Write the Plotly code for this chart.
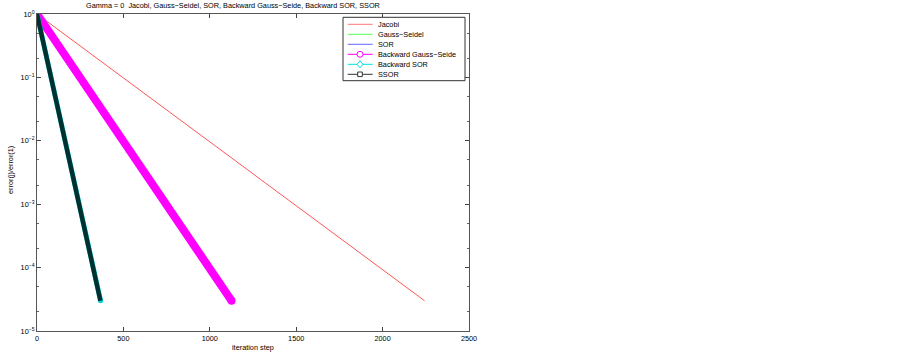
import plotly.graph_objects as go

# ---- data ----
names = ["Jacobi", "Gauss\u2212Seidel", "SOR", "Backward Gauss\u2212Seide", "Backward SOR", "SSOR"]
iter_jacobi = [0, 2243]
err_jacobi = [1.0, 3.0e-5]
iter_gs = [0, 1126]
err_gs = [1.0, 3.0e-5]
iter_sor = [0, 368]
err_sor = [1.0, 3.0e-5]
iter_bgs = [0, 1126]
err_bgs = [1.0, 3.0e-5]
iter_bsor = [0, 368]
err_bsor = [1.0, 3.0e-5]
iter_ssor = [0, 367]
err_ssor = [1.0, 3.0e-5]
x_ticks = [0, 500, 1000, 1500, 2000, 2500]
y_ticks = [1e-5, 1e-4, 1e-3, 1e-2, 1e-1, 1e0]
y_ticklabels = ["10<sup>\u22125</sup>", "10<sup>\u22124</sup>", "10<sup>\u22123</sup>",
                "10<sup>\u22122</sup>", "10<sup>\u22121</sup>", "10<sup>0</sup>"]

FONT = "Arial"
FS = 7.3
W, H = 902, 354
L, R, T, B = 37, 433, 14, 23

fig = go.Figure()
fig.add_trace(go.Scatter(x=iter_jacobi, y=err_jacobi, mode="lines",
                         line=dict(color="#ff5555", width=1), showlegend=False))
fig.add_trace(go.Scatter(x=iter_gs, y=err_gs, mode="lines",
                         line=dict(color="#33ff33", width=1), showlegend=False))
fig.add_trace(go.Scatter(x=iter_sor, y=err_sor, mode="lines",
                         line=dict(color="#3333ff", width=1), showlegend=False))
fig.add_trace(go.Scatter(x=iter_bgs, y=err_bgs, mode="lines+markers",
                         line=dict(color="#ff00ff", width=8),
                         marker=dict(symbol="circle", size=8, color="#ff00ff"),
                         showlegend=False))
fig.add_trace(go.Scatter(x=iter_bsor, y=err_bsor, mode="lines+markers",
                         line=dict(color="#00d8d8", width=5),
                         marker=dict(symbol="circle", size=5, color="#00d8d8"),
                         showlegend=False))
fig.add_trace(go.Scatter(x=iter_ssor, y=err_ssor, mode="lines",
                         line=dict(color="rgba(0,0,0,0.78)", width=4.5),
                         showlegend=False))

# ---- manual MATLAB-style legend ----
def px(x):
    return (x - L) / (W - L - R)

def py(y):
    return 1 - (y - T) / (H - T - B)

shapes = [dict(type="rect", xref="paper", yref="paper",
               x0=px(343), x1=px(465), y0=py(17.3), y1=py(80.7),
               line=dict(color="#333", width=1), fillcolor="white", layer="above")]
annotations = []
colors = ["#ff7777", "#55ff55", "#6666ff", "#ff00ff", "#00e0e0", "#333333"]
rows = [24.3, 34.3, 44.3, 54.3, 64.3, 74.3]
for i, (nm, c, yy) in enumerate(zip(names, colors, rows)):
    shapes.append(dict(type="line", xref="paper", yref="paper",
                       x0=px(347.7), x1=px(372.7), y0=py(yy), y1=py(yy),
                       line=dict(color=c, width=1), layer="above"))
    if i == 3:
        shapes.append(dict(type="circle", xref="paper", yref="paper",
                           x0=px(357), x1=px(363), y0=py(yy + 3), y1=py(yy - 3),
                           line=dict(color=c, width=1), fillcolor="white", layer="above"))
    elif i == 4:
        path = "M {a},{b} L {c},{d} L {a},{e} L {f},{d} Z".format(
            a=px(360), b=py(yy - 3.5), c=px(363), d=py(yy), e=py(yy + 3.5), f=px(357))
        shapes.append(dict(type="path", xref="paper", yref="paper", path=path,
                           line=dict(color=c, width=1), fillcolor="white", layer="above"))
    elif i == 5:
        shapes.append(dict(type="rect", xref="paper", yref="paper",
                           x0=px(357.7), x1=px(362.3), y0=py(yy + 2.3), y1=py(yy - 2.3),
                           line=dict(color=c, width=1), fillcolor="white", layer="above"))
    annotations.append(dict(xref="paper", yref="paper", x=px(375.7), y=py(yy),
                            text=nm, showarrow=False, xanchor="left", yanchor="middle",
                            font=dict(family=FONT, size=FS, color="black")))

# axis titles and title placed by hand like MATLAB
annotations.append(dict(xref="paper", yref="paper", x=px(10), y=py(170), text="error(j)/error(1)",
                        showarrow=False, textangle=-90, xanchor="center", yanchor="middle",
                        font=dict(family=FONT, size=FS, color="black")))
annotations.append(dict(xref="paper", yref="paper", x=px(253), y=py(347.5), text="iteration step",
                        showarrow=False, xanchor="center", yanchor="middle",
                        font=dict(family=FONT, size=FS, color="black")))
annotations.append(dict(xref="paper", yref="paper", x=px(233), y=py(5.5),
                        text="Gamma = 0  Jacobi, Gauss\u2212Seidel, SOR, Backward Gauss\u2212Seide, Backward SOR, SSOR",
                        showarrow=False, xanchor="center", yanchor="middle",
                        font=dict(family=FONT, size=FS, color="black")))

fig.update_layout(
    width=W, height=H,
    margin=dict(l=L, r=R, t=T, b=B, pad=0),
    paper_bgcolor="white", plot_bgcolor="white",
    font=dict(family=FONT, size=FS, color="black"),
    shapes=shapes, annotations=annotations,
)
fig.update_xaxes(range=[0, 2500], tickvals=x_ticks, ticktext=[str(v) for v in x_ticks],
                 ticks="inside", ticklen=4, tickcolor="#444", mirror="allticks",
                 showline=True, linecolor="#555", linewidth=1, showgrid=False, zeroline=False,
                 automargin=False, tickfont=dict(family=FONT, size=FS))
fig.update_yaxes(type="log", range=[-5, 0], tickvals=y_ticks, ticktext=y_ticklabels,
                 ticks="inside", ticklen=4, tickcolor="#444", mirror="allticks",
                 minor=dict(ticks="inside", ticklen=2, tickcolor="#666", showgrid=False),
                 showline=True, linecolor="#555", linewidth=1, showgrid=False, zeroline=False,
                 automargin=False, tickfont=dict(family=FONT, size=FS))

fig.write_html("out.html", config={"displayModeBar": False},
               post_script="document.body.style.margin='0';")
